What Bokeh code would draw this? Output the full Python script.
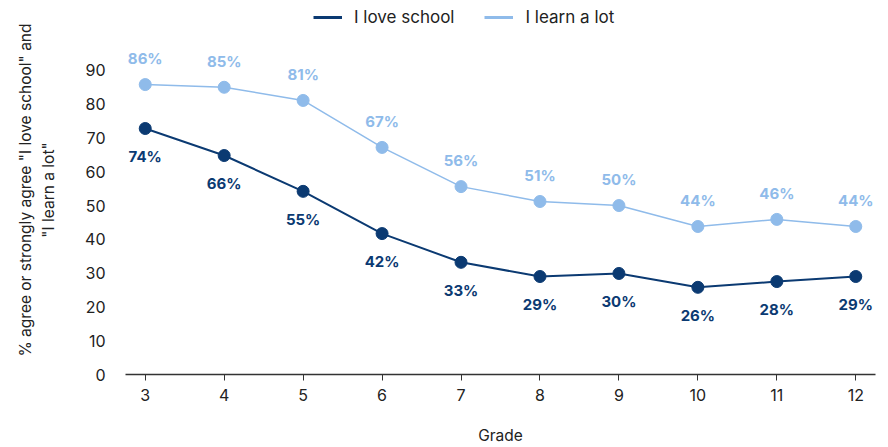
from bokeh.plotting import figure
from bokeh.models import ColumnDataSource, Legend, LegendItem, Range1d, FixedTicker, LinearAxis
from bokeh.core.properties import value
from bokeh.embed import file_html
from bokeh.resources import INLINE

grades = [3, 4, 5, 6, 7, 8, 9, 10, 11, 12]
love_school = [72.8, 64.8, 54.2, 41.7, 33.2, 29.0, 29.9, 25.8, 27.5, 29.0]
love_labels = ["74%", "66%", "55%", "42%", "33%", "29%", "30%", "26%", "28%", "29%"]
learn_lot = [85.8, 85.0, 81.1, 67.2, 55.6, 51.2, 50.0, 43.8, 45.9, 43.8]
learn_labels = ["86%", "85%", "81%", "67%", "56%", "51%", "50%", "44%", "46%", "44%"]
y_ticks = [0, 10, 20, 30, 40, 50, 60, 70, 80, 90]

DARK = "#0b3a72"
LIGHT = "#8fbbea"
FONT = "Inter"

src_love = ColumnDataSource(dict(x=grades, y=love_school, t=love_labels))
src_learn = ColumnDataSource(dict(x=grades, y=learn_lot, t=learn_labels))

p = figure(width=888, height=447, output_backend="svg", toolbar_location=None,
           x_range=Range1d(2.75, 12.25), y_range=Range1d(0, 109.2),
           min_border_left=125, min_border_right=13, min_border_top=5, min_border_bottom=73)
p.outline_line_color = None
p.grid.grid_line_color = None
p.background_fill_color = "white"
p.border_fill_color = "white"

p.line("x", "y", source=src_love, line_color=DARK, line_width=2)
p.scatter("x", "y", source=src_love, size=12, fill_color=DARK, line_color=DARK)
p.line("x", "y", source=src_learn, line_color=LIGHT, line_width=1.5)
p.scatter("x", "y", source=src_learn, size=12, fill_color=LIGHT, line_color=LIGHT)

# legend-only swatches (thicker lines, as in the reference legend); no visible data
nan = float("nan")
k1 = p.line(x=[nan], y=[nan], line_color=DARK, line_width=3)
k2 = p.line(x=[nan], y=[nan], line_color=LIGHT, line_width=3)

p.text("x", "y", text="t", source=src_love, x_offset=0, y_offset=28,
       text_align="center", text_baseline="middle", text_color=DARK,
       text_font=value(FONT), text_font_size="15px", text_font_style="bold")
p.text("x", "y", text="t", source=src_learn, x_offset=0, y_offset=-26,
       text_align="center", text_baseline="middle", text_color=LIGHT,
       text_font=value(FONT), text_font_size="15px", text_font_style="bold")

p.xaxis.ticker = FixedTicker(ticks=grades)
p.yaxis.ticker = FixedTicker(ticks=y_ticks)
p.xaxis.axis_label = "Grade"
p.yaxis.axis_label = "\"I learn a lot\""

outer = LinearAxis(ticker=FixedTicker(ticks=[]),
                   axis_label="% agree or strongly agree \"I love school\" and")
p.add_layout(outer, "left")

for ax in (p.xaxis[0], p.yaxis[0], outer):
    ax.major_label_text_font = FONT
    ax.major_label_text_font_size = "16px"
    ax.major_label_text_color = "#222222"
    ax.axis_label_text_font = FONT
    ax.axis_label_text_font_size = "15.5px"
    ax.axis_label_text_font_style = "normal"
    ax.axis_label_text_color = "#222222"
    ax.minor_tick_line_color = None

p.xaxis.axis_line_color = "#333333"
p.xaxis.axis_line_width = 1.5
p.xaxis.major_tick_line_color = "#333333"
p.xaxis.major_tick_in = 0
p.xaxis.major_tick_out = 6
p.xaxis.major_label_standoff = 8
p.xaxis.axis_label_standoff = 22

p.yaxis[0].axis_line_color = None
p.yaxis[0].major_tick_line_color = None
p.yaxis[0].major_label_standoff = 14
p.yaxis[0].axis_label_standoff = 24
outer.axis_line_color = None
outer.major_tick_line_color = None
outer.major_label_standoff = 0
outer.axis_label_standoff = 2

legend = Legend(items=[LegendItem(label="I love school", renderers=[k1]),
                       LegendItem(label="I learn a lot", renderers=[k2])],
                orientation="horizontal", location=(188, 347),
                label_text_font=FONT, label_text_font_size="17px", label_text_color="#222222",
                border_line_color=None, background_fill_alpha=0,
                glyph_width=29, label_standoff=12, spacing=30, padding=0, margin=0)
p.add_layout(legend, "center")

open("out.html", "w").write(file_html(p, INLINE))
